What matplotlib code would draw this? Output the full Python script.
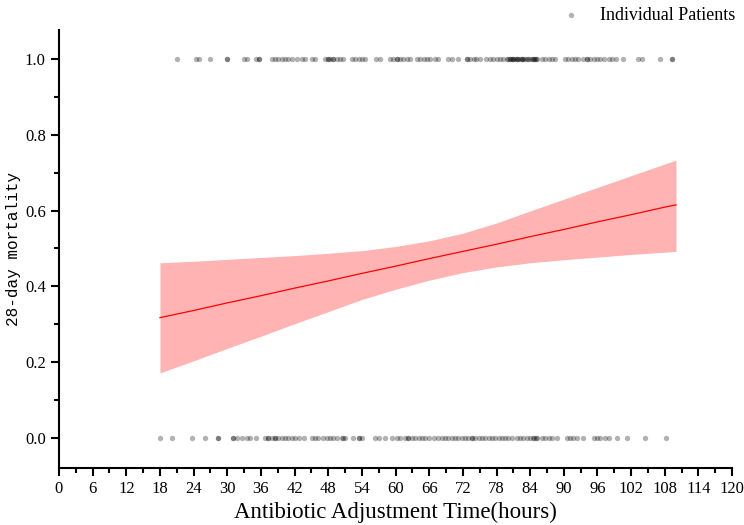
import numpy as np
import matplotlib.pyplot as plt
from matplotlib.ticker import MultipleLocator

# patients who died (28-day mortality = 1), adjustment time in hours
dead_hours = [21.0, 24.5, 25.0, 26.9, 30.0, 30.0, 32.9, 33.5, 35.1, 35.6, 35.6,
              37.9, 38.5, 39.1, 39.7, 40.3, 40.9, 41.5, 42.4, 43.3, 43.9, 45.1,
              45.7, 47.4, 47.9, 47.9, 48.4, 48.9, 48.9, 49.5, 50.1, 50.7,
              52.2, 52.8, 53.4, 54.0, 54.6, 56.6, 57.2, 59.0, 59.6, 60.2, 60.2,
              60.8, 61.4, 62.0, 62.6, 63.8, 64.4, 65.0, 65.6, 66.2, 67.0, 67.6,
              69.4, 70.0, 71.2, 72.7, 72.7, 73.3, 73.9, 74.4, 75.0, 76.2, 76.8,
              77.4, 78.0, 78.6, 79.2, 79.8, 80.1, 80.4, 80.4, 80.7, 81.0, 81.0,
              81.3, 81.6, 81.6, 81.9, 82.2, 82.5, 82.5, 82.8, 83.1, 83.4, 83.7,
              84.0, 84.3, 84.5, 84.6, 84.9, 85.0, 85.2, 86.1, 86.7, 87.3, 87.9,
              88.4, 90.2, 90.8, 91.4, 92.0, 92.6, 93.5, 94.1, 94.1, 94.7, 95.3,
              95.9, 96.5, 97.1, 98.0, 98.6, 99.3, 100.5, 103.3, 103.9, 107.2,
              109.3, 109.3]
# patients who survived (28-day mortality = 0)
alive_hours = [18.0, 20.1, 23.7, 26.0, 28.4, 28.4, 31.1, 31.1, 31.7, 32.6, 33.5,
               34.1, 35.2, 36.7, 37.3, 37.3, 37.9, 38.5, 38.5, 39.1, 39.7, 40.3,
               40.9, 41.5, 42.1, 42.7, 43.6, 45.1, 45.6, 46.2, 47.1, 47.7, 48.3,
               48.9, 49.5, 50.4, 50.7, 51.0, 52.5, 53.4, 53.4, 54.0, 56.4, 57.0,
               58.2, 59.4, 60.2, 60.8, 61.7, 62.3, 62.3, 62.9, 63.5, 64.1, 64.7,
               65.3, 65.9, 66.8, 67.6, 68.2, 68.8, 69.4, 70.0, 70.6, 71.2, 71.8,
               72.4, 73.0, 73.6, 73.6, 74.2, 74.8, 75.4, 76.0, 76.6, 77.2, 77.8,
               78.4, 79.0, 79.6, 80.1, 80.7, 81.6, 82.2, 82.8, 83.4, 84.0, 84.5,
               84.6, 85.0, 85.2, 86.1, 86.7, 87.3, 87.9, 88.7, 90.5, 91.1, 91.7,
               92.3, 93.5, 95.3, 95.9, 96.5, 97.4, 98.0, 99.5, 101.3, 104.5, 108.2]

# fitted probability and 95% CI
fit_hours = [18, 24, 30, 36, 42, 48, 54, 60, 66, 72, 78, 84, 90, 96, 102, 108, 110]
fit_prob = [0.317, 0.336, 0.356, 0.375, 0.395, 0.414, 0.434, 0.453, 0.473,
            0.492, 0.511, 0.531, 0.550, 0.570, 0.589, 0.609, 0.615]
ci_upper = [0.462, 0.466, 0.471, 0.476, 0.481, 0.487, 0.494, 0.505, 0.520,
            0.540, 0.567, 0.599, 0.630, 0.661, 0.692, 0.723, 0.733]
ci_lower = [0.171, 0.203, 0.236, 0.268, 0.301, 0.333, 0.365, 0.392, 0.416,
            0.436, 0.451, 0.462, 0.470, 0.477, 0.484, 0.490, 0.492]

serif = ['Liberation Serif', 'DejaVu Serif']

fig = plt.figure(figsize=(7.44, 5.25), dpi=100)
ax = fig.add_axes([0.0793, 0.1086, 0.9047, 0.8344])

ax.fill_between(fit_hours, ci_lower, ci_upper, color='#ffb3b3', lw=0)
ax.plot(fit_hours, fit_prob, color='red', lw=0.9)

ax.scatter(dead_hours, np.ones(len(dead_hours)), s=15, color='black',
           alpha=0.3, lw=0, label='Individual Patients')
ax.scatter(alive_hours, np.zeros(len(alive_hours)), s=15, color='black',
           alpha=0.3, lw=0)

ax.set_xlim(0, 120)
ax.set_ylim(-0.08, 1.077)
ax.xaxis.set_major_locator(MultipleLocator(6))
ax.xaxis.set_minor_locator(MultipleLocator(3))
ax.yaxis.set_major_locator(MultipleLocator(0.2))
ax.yaxis.set_minor_locator(MultipleLocator(0.1))
ax.set_yticks([0.0, 0.2, 0.4, 0.6, 0.8, 1.0])
ax.set_yticklabels(['0.0', '0.2', '0.4', '0.6', '0.8', '1.0'])

for s in ['top', 'right']:
    ax.spines[s].set_visible(False)
for s in ['left', 'bottom']:
    ax.spines[s].set_linewidth(1.5)
ax.tick_params(which='major', direction='out', length=6, width=1.5,
               labelsize=12)
ax.tick_params(which='minor', direction='out', length=3.5, width=1.5)
for lab in ax.get_xticklabels() + ax.get_yticklabels():
    lab.set_family(serif)

ax.set_xlabel('Antibiotic Adjustment Time(hours)', family=serif, fontsize=16.5,
              labelpad=3)
ax.set_ylabel('28-day mortality', family=['Liberation Mono', 'DejaVu Sans Mono'],
              fontsize=11.5, labelpad=3)

fig.legend(loc='upper right', bbox_to_anchor=(1.01, 1.018), frameon=False,
           prop={'family': serif, 'size': 13}, handletextpad=0.6,
           markerscale=1.0)

fig.savefig('out.png', dpi=100)
